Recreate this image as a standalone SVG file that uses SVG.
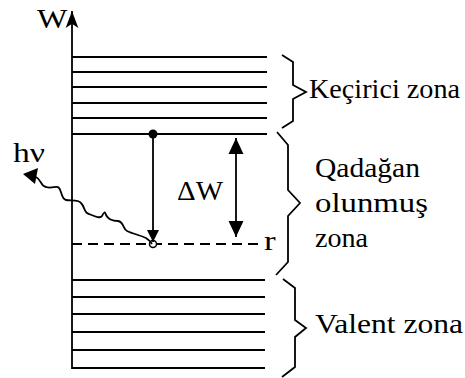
<svg xmlns="http://www.w3.org/2000/svg" width="465" height="378" viewBox="0 0 465 378">
<style>
.ln{stroke:#000;stroke-width:1.8;fill:none}
.br{stroke:#000;stroke-width:1.8;fill:none;stroke-linejoin:miter}
.tx{font-family:'Liberation Serif',serif;font-size:27px;fill:#000}
</style>
<defs>
<marker id="ah" markerUnits="userSpaceOnUse" markerWidth="16" markerHeight="16" viewBox="0 0 15 14" refX="15" refY="7" orient="auto-start-reverse">
<path d="M0,0 L15,7 L0,14 z" fill="#000"/>
</marker>
<marker id="ahs" markerUnits="userSpaceOnUse" markerWidth="12" markerHeight="12" viewBox="0 0 10 10" refX="10" refY="5" orient="auto">
<path d="M0,0 L10,5 L0,10 z" fill="#000"/>
</marker>
<marker id="ax" markerUnits="userSpaceOnUse" markerWidth="18" markerHeight="14" viewBox="0 0 17 12" refX="16" refY="6" orient="auto">
<path d="M0,0 L16,6 L0,12 L4,6 z" fill="#000"/>
</marker>
</defs>

<g id="axis">
<line class="ln" x1="72" y1="369" x2="72" y2="11" marker-end="url(#ax)" stroke-width="2"/>
<text class="tx" transform="translate(37,28) scale(1.15,1)" style="font-size:28px">W</text>
</g>

<g id="conduction-band">
<line class="ln" x1="72" y1="57" x2="267" y2="57"/>
<line class="ln" x1="72" y1="72" x2="267" y2="72"/>
<line class="ln" x1="72" y1="87" x2="267" y2="87"/>
<line class="ln" x1="72" y1="103" x2="267" y2="103"/>
<line class="ln" x1="72" y1="118" x2="267" y2="118"/>
<line class="ln" x1="72" y1="134" x2="267" y2="134"/>
<path class="br" d="M282,55 L293,62 L293,85 L306,92 L293,99 L293,121 L282,128"/>
<text class="tx" x="309" y="98" textLength="151" lengthAdjust="spacingAndGlyphs">Keçirici zona</text>
</g>

<g id="forbidden-zone">
<line class="ln" x1="72" y1="244" x2="262" y2="244" stroke-dasharray="10,6"/>
<text class="tx" transform="translate(264,250) scale(1.3,1)">r</text>
<path class="br" d="M277,132 L288,145 L288,190 L300,203 L288,216 L288,262 L276,275"/>
<text class="tx" x="315" y="177" textLength="105" lengthAdjust="spacingAndGlyphs">Qadağan</text>
<text class="tx" x="315" y="212" textLength="113" lengthAdjust="spacingAndGlyphs">olunmuş</text>
<text class="tx" x="315" y="247" textLength="53" lengthAdjust="spacingAndGlyphs">zona</text>
</g>

<g id="valence-band">
<line class="ln" x1="72" y1="280" x2="265" y2="280"/>
<line class="ln" x1="72" y1="297" x2="265" y2="297"/>
<line class="ln" x1="72" y1="314" x2="265" y2="314"/>
<line class="ln" x1="72" y1="332" x2="265" y2="332"/>
<line class="ln" x1="72" y1="350" x2="265" y2="350"/>
<line class="ln" x1="72" y1="368" x2="265" y2="368"/>
<path class="br" d="M283,279 L295,288 L295,320 L306,328 L295,337 L295,367 L282,377"/>
<text class="tx" x="315" y="333" textLength="148" lengthAdjust="spacingAndGlyphs">Valent zona</text>
</g>

<g id="electron-states">
<circle cx="153" cy="134" r="4.5" fill="#000"/>
<circle cx="153" cy="244" r="3.5" fill="#fff" stroke="#000" stroke-width="1.5"/>
</g>

<g id="labels">
<text class="tx" x="177" y="200" textLength="46" lengthAdjust="spacingAndGlyphs">ΔW</text>
<text class="tx" x="13" y="162" textLength="32" lengthAdjust="spacingAndGlyphs">hν</text>
</g>

<g id="connectors">
<line class="ln" x1="153" y1="138" x2="153" y2="242" marker-end="url(#ahs)"/>
<line class="ln" x1="236" y1="138" x2="236" y2="237" marker-start="url(#ah)" marker-end="url(#ah)"/>
<path class="ln" stroke-width="1.5" d="M36,177 C42,180 40,186 46,187 C52,189 57,185 59,188 C62,191 61,199 66,200 C71,201 78,199 81,203 C85,207 84,213 89,214 C94,216 100,219 102,216 C104,212 105,211 106,215 C108,219 112,221 118,221 C124,222 123,229 127,231 C133,234 140,235 146,238 C149,240 151,242 152,244"/>
<polygon points="23,174 38,168 35,184" fill="#000"/>
</g>
</svg>
